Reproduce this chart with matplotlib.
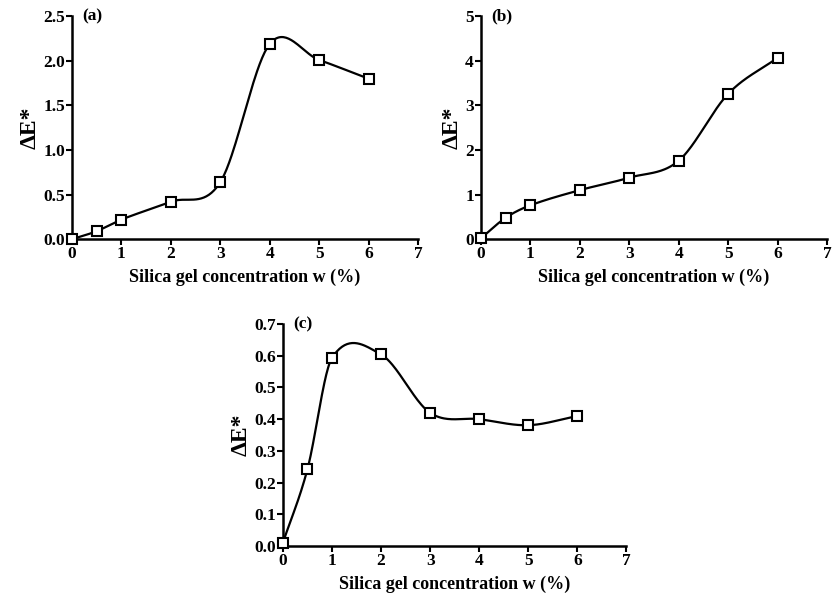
import matplotlib
matplotlib.use("Agg")
import matplotlib.pyplot as plt
import numpy as np

plt.rcParams["font.family"] = ["Liberation Serif", "DejaVu Serif"]
plt.rcParams["font.weight"] = "bold"
plt.rcParams["axes.labelweight"] = "bold"

# data
conc = [0, 0.5, 1, 2, 3, 4, 5, 6]
dE_a = [0.0, 0.09, 0.22, 0.42, 0.64, 2.19, 2.01, 1.80]
dE_b = [0.02, 0.48, 0.76, 1.10, 1.38, 1.76, 3.26, 4.07]
dE_c = [0.01, 0.242, 0.593, 0.604, 0.42, 0.40, 0.381, 0.41]

xlabel = "Silica gel concentration w (%)"
ylabel = "\u0394E*"


def smooth(x, y, n=40):
    # cardinal (Catmull-Rom) hermite curve through the points, only for the line
    x = np.asarray(x, float)
    y = np.asarray(y, float)
    m = np.empty_like(y)
    m[1:-1] = (y[2:] - y[:-2]) / (x[2:] - x[:-2])
    m[0] = (y[1] - y[0]) / (x[1] - x[0])
    m[-1] = (y[-1] - y[-2]) / (x[-1] - x[-2])
    xs, ys = [], []
    t = np.linspace(0, 1, n)
    for i in range(len(x) - 1):
        h = x[i + 1] - x[i]
        h00 = 2 * t**3 - 3 * t**2 + 1
        h10 = t**3 - 2 * t**2 + t
        h01 = -2 * t**3 + 3 * t**2
        h11 = t**3 - t**2
        xs.append(x[i] + t * h)
        ys.append(h00 * y[i] + h10 * h * m[i] + h01 * y[i + 1] + h11 * h * m[i + 1])
    return np.concatenate(xs), np.concatenate(ys)


def panel(ax, y, ymax, yticks, fmt, tag):
    xs, ys = smooth(conc, y)
    ax.plot(xs, ys, color="black", lw=1.6, clip_on=False)
    ax.plot(conc, y, ls="none", marker="s", ms=6.5, mfc="white", mec="black",
            mew=1.5, clip_on=False, zorder=3)
    ax.set_xlim(0, 7)
    ax.set_ylim(0, ymax)
    ax.set_xticks(range(8))
    ax.set_yticks(yticks)
    ax.set_yticklabels([fmt.format(v) for v in yticks])
    for s in ["top", "right"]:
        ax.spines[s].set_visible(False)
    for s in ["left", "bottom"]:
        ax.spines[s].set_linewidth(1.8)
    ax.tick_params(direction="out", length=4, width=1.5, labelsize=12.5, pad=1)
    ax.set_xlabel(xlabel, fontsize=13, labelpad=5)
    ax.set_ylabel(ylabel, fontsize=17, labelpad=2)
    ax.text(0.03, 1.0, tag, transform=ax.transAxes, ha="left", va="center",
            fontsize=12.5)


fig = plt.figure(figsize=(8.32, 6.04), dpi=100)
ax1 = fig.add_axes([0.0865, 0.604, 0.416, 0.369])
ax2 = fig.add_axes([0.578, 0.604, 0.416, 0.369])
ax3 = fig.add_axes([0.340, 0.096, 0.413, 0.3675])

panel(ax1, dE_a, 2.5, [0, 0.5, 1.0, 1.5, 2.0, 2.5], "{:.1f}", "(a)")
panel(ax2, dE_b, 5, [0, 1, 2, 3, 4, 5], "{:.0f}", "(b)")
panel(ax3, dE_c, 0.7, [0, 0.1, 0.2, 0.3, 0.4, 0.5, 0.6, 0.7], "{:.1f}", "(c)")

fig.savefig("out.png", dpi=100)
